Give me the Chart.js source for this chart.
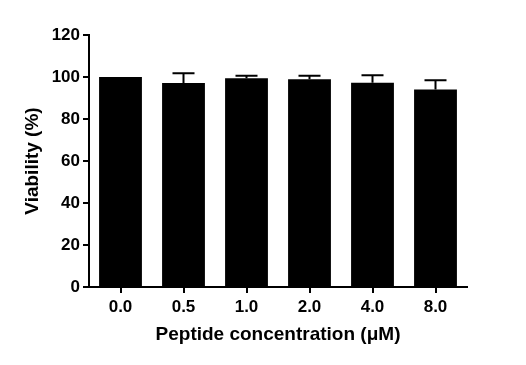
<!DOCTYPE html>
<html>
<head>
<meta charset="utf-8">
<script src="https://cdn.jsdelivr.net/npm/chart.js@4"></script>
<style>
  html, body { margin: 0; padding: 0; background: #fff; }
  #wrap { width: 526px; height: 365px; }
</style>
</head>
<body>
<div id="wrap"><canvas id="chart" width="526" height="365"></canvas></div>
<script>
const concentrations = ['0.0', '0.5', '1.0', '2.0', '4.0', '8.0'];
const viability = [100, 97.1, 99.4, 98.9, 97.3, 94.1];
const viabilityErr = [0, 4.7, 1.2, 1.7, 3.5, 4.3];
const yTicks = [0, 20, 40, 60, 80, 100, 120];

// draws upward error bars (SD) on top of each bar
const errorBars = {
    id: 'errorBars',
    afterDatasetsDraw(chart) {
        const ctx = chart.ctx;
        const meta = chart.getDatasetMeta(0);
        const yScale = chart.scales.y;
        ctx.save();
        ctx.strokeStyle = '#000';
        ctx.lineWidth = 2;
        meta.data.forEach((bar, i) => {
            const err = viabilityErr[i];
            if (!err) return;
            const yTop = yScale.getPixelForValue(viability[i] + err);
            const yBar = yScale.getPixelForValue(viability[i]);
            ctx.beginPath();
            ctx.moveTo(bar.x, yBar);
            ctx.lineTo(bar.x, yTop);
            ctx.moveTo(bar.x - 11, yTop);
            ctx.lineTo(bar.x + 11, yTop);
            ctx.stroke();
        });
        ctx.restore();
    }
};

const tickFont = { family: 'Liberation Sans, Arial, sans-serif', size: 17, weight: 'bold' };
const titleFont = { family: 'Liberation Sans, Arial, sans-serif', size: 19, weight: 'bold' };

new Chart(document.getElementById('chart').getContext('2d'), {
    type: 'bar',
    data: {
        labels: concentrations,
        datasets: [{
            data: viability,
            backgroundColor: '#000',
            borderWidth: 0,
            categoryPercentage: 1,
            barPercentage: 0.68
        }]
    },
    options: {
        responsive: false,
        animation: false,
        layout: { padding: { top: 35, right: 59, bottom: 0, left: 0 } },
        plugins: { legend: { display: false }, tooltip: { enabled: false } },
        scales: {
            x: {
                grid: { offset: false, drawOnChartArea: false, drawTicks: true, tickLength: 6, color: '#000', lineWidth: 2 },
                border: { color: '#000', width: 2 },
                ticks: { color: '#000', font: tickFont, padding: 4, maxRotation: 0 },
                title: { display: true, text: 'Peptide concentration (\u03bcM)', color: '#000', font: titleFont, padding: { top: 4, bottom: 19 } },
                afterFit(scale) { scale.height = 78; }
            },
            y: {
                min: 0,
                max: 120,
                afterBuildTicks(scale) { scale.ticks = yTicks.map(v => ({ value: v })); },
                grid: { drawOnChartArea: false, drawTicks: true, tickLength: 6, color: '#000', lineWidth: 2 },
                border: { color: '#000', width: 2 },
                ticks: { color: '#000', font: tickFont, padding: 3 },
                title: { display: true, text: 'Viability (%)', color: '#000', font: titleFont, padding: { top: 21, bottom: 4 } },
                afterFit(scale) { scale.width = 89; }
            }
        }
    },
    plugins: [errorBars]
});
</script>
</body>
</html>
